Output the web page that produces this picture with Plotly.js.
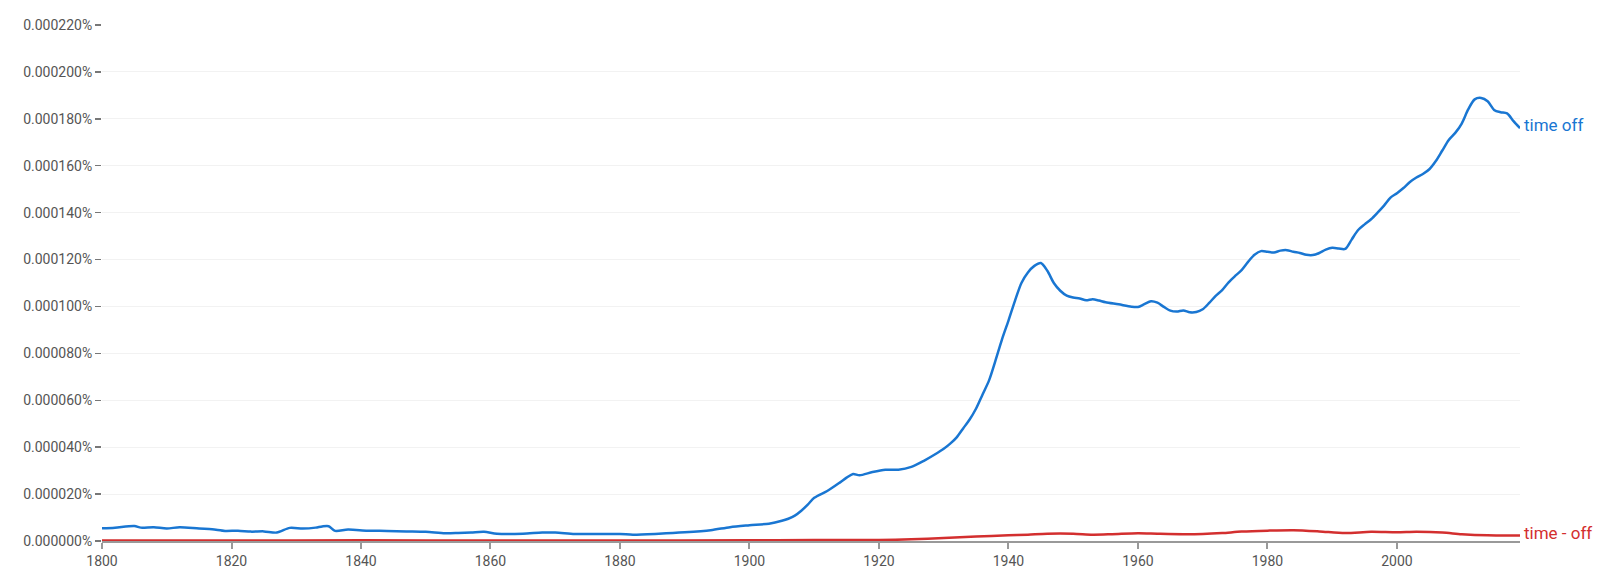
<!DOCTYPE html>
<html>
<head>
<meta charset="utf-8">
<script src="https://cdn.plot.ly/plotly-3.0.1.min.js"></script>
<style>
  html, body { margin: 0; padding: 0; background: #fff; }
  #plot { width: 1609px; height: 575px; }
</style>
</head>
<body>
<div id="plot"></div>
<script>
// "time off" frequency, in percent
const timeOffYears = [
  1800, 1802, 1805, 1806, 1808, 1810, 1812, 1815, 1817, 1819, 1821, 1823, 1825, 1827, 1829,
  1831, 1833, 1834, 1835, 1836, 1838, 1841, 1844, 1847, 1850, 1853, 1855, 1857, 1859, 1861,
  1865, 1868, 1870, 1873, 1876, 1880, 1882, 1886, 1890, 1894, 1897, 1900, 1903, 1905, 1906,
  1907, 1908, 1909, 1910, 1912, 1914, 1915, 1916, 1917, 1919, 1921, 1923, 1925, 1927, 1929,
  1930, 1931, 1932, 1933, 1934, 1935, 1936, 1937, 1938, 1939, 1940, 1941, 1942, 1943, 1944,
  1945, 1946, 1947, 1948, 1949, 1950, 1951, 1952, 1953, 1954, 1955, 1957, 1959, 1960, 1961,
  1962, 1963, 1964, 1965, 1966, 1967, 1968, 1969, 1970, 1971, 1972, 1973, 1974, 1975, 1976,
  1977, 1978, 1979, 1980, 1981, 1982, 1983, 1984, 1985, 1986, 1987, 1988, 1989, 1990, 1991,
  1992, 1993, 1994, 1995, 1996, 1997, 1998, 1999, 2000, 2001, 2002, 2003, 2004, 2005, 2006,
  2007, 2008, 2009, 2010, 2011, 2012, 2013, 2014, 2015, 2016, 2017, 2018, 2019
];
const timeOffValues = [
  5.4e-6, 5.7e-6, 6.4e-6, 5.7e-6, 5.9e-6, 5.3e-6, 5.9e-6, 5.3e-6, 5.0e-6, 4.3e-6, 4.4e-6, 4.0e-6, 4.1e-6, 3.6e-6, 5.6e-6,
  5.3e-6, 5.7e-6, 6.2e-6, 6.3e-6, 4.3e-6, 4.9e-6, 4.4e-6, 4.3e-6, 4.1e-6, 3.9e-6, 3.3e-6, 3.4e-6, 3.6e-6, 3.9e-6, 3.1e-6,
  3.1e-6, 3.6e-6, 3.6e-6, 3.0e-6, 3.0e-6, 3.0e-6, 2.7e-6, 3.1e-6, 3.7e-6, 4.6e-6, 5.9e-6, 6.7e-6, 7.4e-6, 8.6e-6, 9.5e-6,
  10.8e-6, 12.9e-6, 15.5e-6, 18.4e-6, 21.3e-6, 25.0e-6, 27.0e-6, 28.6e-6, 28.0e-6, 29.4e-6, 30.4e-6, 30.4e-6, 31.6e-6, 34.3e-6, 37.5e-6,
  39.3e-6, 41.5e-6, 44.2e-6, 48.0e-6, 51.8e-6, 56.5e-6, 62.5e-6, 68.5e-6, 77.0e-6, 86.0e-6, 94.0e-6, 102.4e-6, 110.0e-6, 114.5e-6, 117.3e-6,
  118.5e-6, 115.2e-6, 110.0e-6, 106.7e-6, 104.6e-6, 103.8e-6, 103.4e-6, 102.6e-6, 103.1e-6, 102.5e-6, 101.8e-6, 100.9e-6, 99.9e-6, 99.8e-6, 101.0e-6,
  102.2e-6, 101.6e-6, 99.8e-6, 98.2e-6, 97.8e-6, 98.3e-6, 97.5e-6, 97.6e-6, 98.8e-6, 101.5e-6, 104.5e-6, 107.0e-6, 110.3e-6, 113.0e-6, 115.5e-6,
  119.0e-6, 122.0e-6, 123.6e-6, 123.3e-6, 123.0e-6, 123.8e-6, 124.0e-6, 123.3e-6, 122.8e-6, 122.0e-6, 121.9e-6, 122.8e-6, 124.2e-6, 125.0e-6, 124.7e-6,
  124.5e-6, 128.5e-6, 132.6e-6, 135.0e-6, 137.2e-6, 140.0e-6, 143.0e-6, 146.4e-6, 148.3e-6, 150.5e-6, 153.1e-6, 155.0e-6, 156.5e-6, 158.5e-6, 162.0e-6,
  166.5e-6, 171.0e-6, 174.0e-6, 178.0e-6, 184.0e-6, 188.3e-6, 188.9e-6, 187.5e-6, 183.8e-6, 182.8e-6, 182.3e-6, 179.0e-6, 176.0e-6
];

// "time - off" frequency, in percent
const timeDashOffYears = [
  1800, 1820, 1840, 1860, 1880, 1900, 1910, 1920, 1925, 1930, 1935, 1940, 1943, 1946, 1950,
  1953, 1956, 1960, 1963, 1967, 1970, 1973, 1976, 1980, 1984, 1988, 1992, 1996, 2000, 2003,
  2007, 2010, 2014, 2019
];
const timeDashOffValues = [
  0.2e-6, 0.2e-6, 0.3e-6, 0.2e-6, 0.2e-6, 0.3e-6, 0.4e-6, 0.4e-6, 0.7e-6, 1.3e-6, 1.9e-6, 2.4e-6, 2.7e-6, 3.1e-6, 3.1e-6,
  2.7e-6, 2.9e-6, 3.3e-6, 3.1e-6, 2.9e-6, 3.0e-6, 3.4e-6, 4.0e-6, 4.4e-6, 4.6e-6, 4.1e-6, 3.4e-6, 3.9e-6, 3.7e-6, 3.9e-6,
  3.6e-6, 2.9e-6, 2.4e-6, 2.3e-6
];

const seriesNames = ['time off', 'time - off'];
const seriesColors = ['#1976d2', '#d32f2f'];

const traces = [
  {
    x: timeOffYears,
    y: timeOffValues,
    name: seriesNames[0],
    type: 'scatter',
    mode: 'lines',
    line: { color: seriesColors[0], width: 2.5, shape: 'spline', smoothing: 0.8 },
  },
  {
    x: timeDashOffYears,
    y: timeDashOffValues,
    name: seriesNames[1],
    type: 'scatter',
    mode: 'lines',
    line: { color: seriesColors[1], width: 2.5, shape: 'spline', smoothing: 0.8 },
  },
];

// end-of-line labels, placed at each series' last point
const endLabels = [
  [timeOffYears, timeOffValues],
  [timeDashOffYears, timeDashOffValues],
].map(([xs, ys], i) => ({
  x: xs[xs.length - 1],
  y: ys[ys.length - 1],
  xref: 'x',
  yref: 'y',
  text: seriesNames[i],
  showarrow: false,
  xanchor: 'left',
  yanchor: 'middle',
  xshift: 2,
  yshift: 3,
  font: { family: 'Roboto, sans-serif', size: 17, color: seriesColors[i] },
}));

const layout = {
  width: 1609,
  height: 575,
  margin: { l: 102, r: 89, t: 25, b: 34 },
  paper_bgcolor: '#fff',
  plot_bgcolor: '#fff',
  showlegend: false,
  font: { family: 'Roboto, sans-serif', size: 14, color: '#555' },
  xaxis: {
    range: [1800, 2019],
    tick0: 1800,
    dtick: 20,
    tickformat: 'd',
    showgrid: false,
    zeroline: false,
    showline: true,
    linecolor: '#999',
    linewidth: 2,
    ticks: 'outside',
    ticklen: 6,
    tickwidth: 2,
    tickcolor: '#999',
    tickfont: { size: 14, color: '#555' },
  },
  yaxis: {
    range: [0, 0.00022],
    tick0: 0,
    dtick: 0.00002,
    tickformat: '.6f',
    ticksuffix: '%',
    showgrid: true,
    gridcolor: '#f2f2f2',
    gridwidth: 1,
    zeroline: false,
    showline: false,
    ticks: 'outside',
    ticklen: 6,
    tickwidth: 1.5,
    tickcolor: '#777',
    tickfont: { size: 14, color: '#555' },
  },
  annotations: endLabels,
};

Plotly.newPlot('plot', traces, layout, { displayModeBar: false, staticPlot: true });
</script>
</body>
</html>
